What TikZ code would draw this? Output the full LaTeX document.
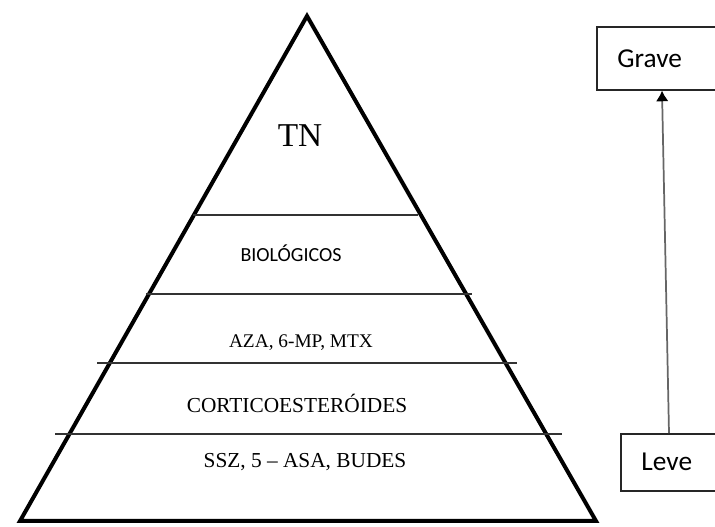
\documentclass[tikz,border=0pt]{standalone}
\usepackage{fontspec}
\setmainfont{Liberation Serif}
\newfontfamily\calibfont{Carlito}
\usetikzlibrary{arrows.meta, positioning, calc}

\begin{document}
\begin{tikzpicture}[x=0.75pt, y=-0.75pt,
    level/.style={draw=black!80, line width=1.4pt},
    tier/.style={anchor=base, inner sep=0pt, font=\fontsize{16}{18}\selectfont},
    sevbox/.style={draw=black!85, line width=1.2pt, anchor=north west,
        inner xsep=15.5pt, inner ysep=0pt, text width=68pt, align=left,
        font=\calibfont\fontsize{20.5}{22}\selectfont}
    ]
    \useasboundingbox (0,0) rectangle (715,527);
    \clip (0,0) rectangle (715,527);

    \draw[line width=3pt] (307,16) -- (596,521) -- (20,521) -- cycle;

    \draw[level] (193,215) -- (418,215);
    \draw[level] (146,294) -- (472,294);
    \draw[level] (97,363) -- (517,363);
    \draw[level] (55,434) -- (562,434);

    \node[tier, font=\fontsize{25}{28}\selectfont] (tn) at (300,147) {TN};
    \node[tier, font=\calibfont\fontsize{15}{18}\selectfont] (bio) at (291,262) {BIOLÓGICOS};
    \node[tier, font=\fontsize{14.5}{17}\selectfont] (aza) at (301,348) {AZA, 6-MP, MTX};
    \node[tier] (cort) at (297,413) {CORTICOESTERÓIDES};
    \node[tier] (ssz) at (305,468) {SSZ, 5 – ASA, BUDES};

    \node[sevbox, minimum height=47.25pt] (grave) at (596,26) {Grave};
    \node[sevbox, minimum height=42.75pt] (leve) at (620,433) {Leve};

    \draw[black!60, line width=1.3pt, -{Latex[length=8pt, width=9.5pt, color=black]}]
        ([xshift=36.75pt]leve.north west) -- ([xshift=49.5pt]grave.south west);
\end{tikzpicture}
\end{document}
